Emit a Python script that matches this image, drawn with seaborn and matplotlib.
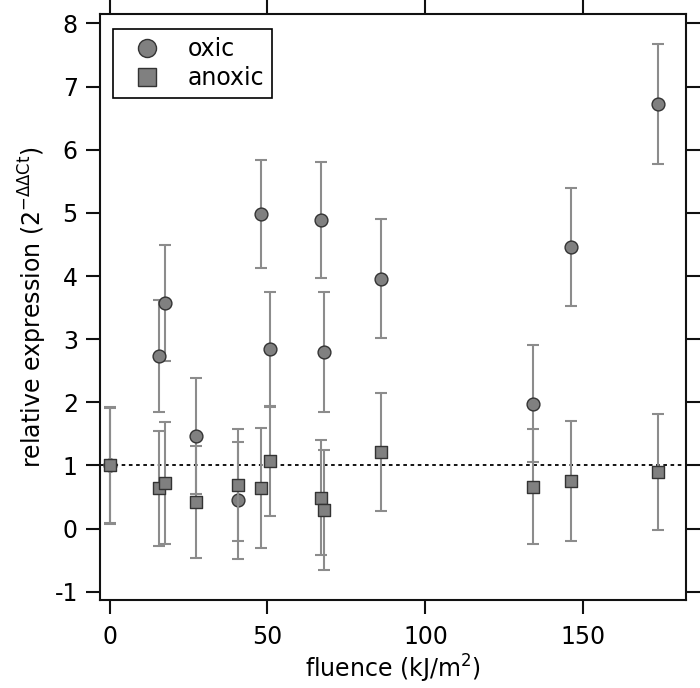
import numpy as np
import pandas as pd
import seaborn as sns
import matplotlib
matplotlib.use("Agg")
import matplotlib.pyplot as plt
from matplotlib.lines import Line2D

# fluence (kJ/m^2) and relative expression
fluence = [0, 15.6, 17.6, 27.5, 40.6, 48.0, 50.8, 66.9, 68.0, 85.8, 134.2, 146.0, 173.5]
oxic_expr = [1.0, 2.73, 3.57, 1.47, 0.445, 4.98, 2.84, 4.89, 2.80, 3.96, 1.98, 4.46, 6.73]
oxic_err = [0.93, 0.89, 0.92, 0.92, 0.93, 0.86, 0.91, 0.92, 0.95, 0.94, 0.93, 0.93, 0.95]
anoxic_expr = [1.0, 0.64, 0.72, 0.42, 0.69, 0.64, 1.07, 0.49, 0.30, 1.21, 0.66, 0.75, 0.89]
anoxic_err = [0.91, 0.91, 0.97, 0.89, 0.88, 0.95, 0.87, 0.91, 0.95, 0.93, 0.91, 0.95, 0.92]

df = pd.concat([
    pd.DataFrame({'fluence': fluence, 'expr': oxic_expr, 'err': oxic_err, 'condition': 'oxic'}),
    pd.DataFrame({'fluence': fluence, 'expr': anoxic_expr, 'err': anoxic_err, 'condition': 'anoxic'}),
], ignore_index=True)

sns.set_style("ticks")
plt.rcParams['font.family'] = ['DejaVu Sans']
plt.rcParams['mathtext.fontset'] = 'dejavusans'
plt.rcParams['axes.unicode_minus'] = False
plt.rcParams['text.color'] = 'black'
plt.rcParams['axes.labelcolor'] = 'black'
plt.rcParams['xtick.color'] = 'black'
plt.rcParams['ytick.color'] = 'black'

fs = 17

fig = plt.figure(figsize=(7.0, 6.88), dpi=100)
ax = fig.add_axes([0.1429, 0.128, 0.8371, 0.8517])

markers = {'oxic': 'o', 'anoxic': 's'}
face = '#808080'
edge = '#333333'
bar_col = '#8c8c8c'

z = 2
for cond in ['oxic', 'anoxic']:
    sub = df[df['condition'] == cond]
    ax.errorbar(sub['fluence'], sub['expr'], yerr=sub['err'], fmt='none',
                ecolor=bar_col, elinewidth=1.5, capsize=4.5, capthick=1.5, zorder=z)
    sns.scatterplot(data=sub, x='fluence', y='expr', marker=markers[cond], s=85,
                    color=face, edgecolor=edge, linewidth=1, ax=ax, zorder=z + 1,
                    legend=False)
    z += 2

ax.axhline(1, color='black', lw=1.3, ls=(0, (2, 2)), zorder=1)

ax.set_xlim(-3, 182.5)
ax.set_ylim(-1.13, 8.15)
ax.set_xticks([0, 50, 100, 150])
ax.set_yticks(range(-1, 9))
for s in ax.spines.values():
    s.set_visible(True)
    s.set_linewidth(1.5)
    s.set_color('#111111')
ax.tick_params(axis='both', which='major', direction='out', length=10, width=1.5,
               color='#111111', labelcolor='black', labelsize=fs, top=True, right=True,
               labeltop=False, labelright=False)
ax.tick_params(axis='x', pad=8)
ax.tick_params(axis='y', pad=6)

ax.set_xlabel('fluence (kJ/m$^{2}$)', fontsize=fs, labelpad=3)
ax.set_ylabel('relative expression (2$^{-\\Delta\\Delta\\mathrm{Ct}}$)', fontsize=fs, labelpad=4)

handles = [
    Line2D([], [], ls='none', marker='o', markersize=13, markerfacecolor=face,
           markeredgecolor=edge, markeredgewidth=1, label='oxic'),
    Line2D([], [], ls='none', marker='s', markersize=12.5, markerfacecolor=face,
           markeredgecolor=edge, markeredgewidth=1, label='anoxic'),
]
leg = ax.legend(handles=handles, loc='upper left', bbox_to_anchor=(0.022, 0.974),
                borderaxespad=0, fancybox=False, edgecolor='black', framealpha=1,
                fontsize=fs, handletextpad=0.6, labelspacing=0.2,
                borderpad=0.35, handlelength=2.2)
leg.get_frame().set_linewidth(1.2)

plt.savefig("out.png", dpi=100)
